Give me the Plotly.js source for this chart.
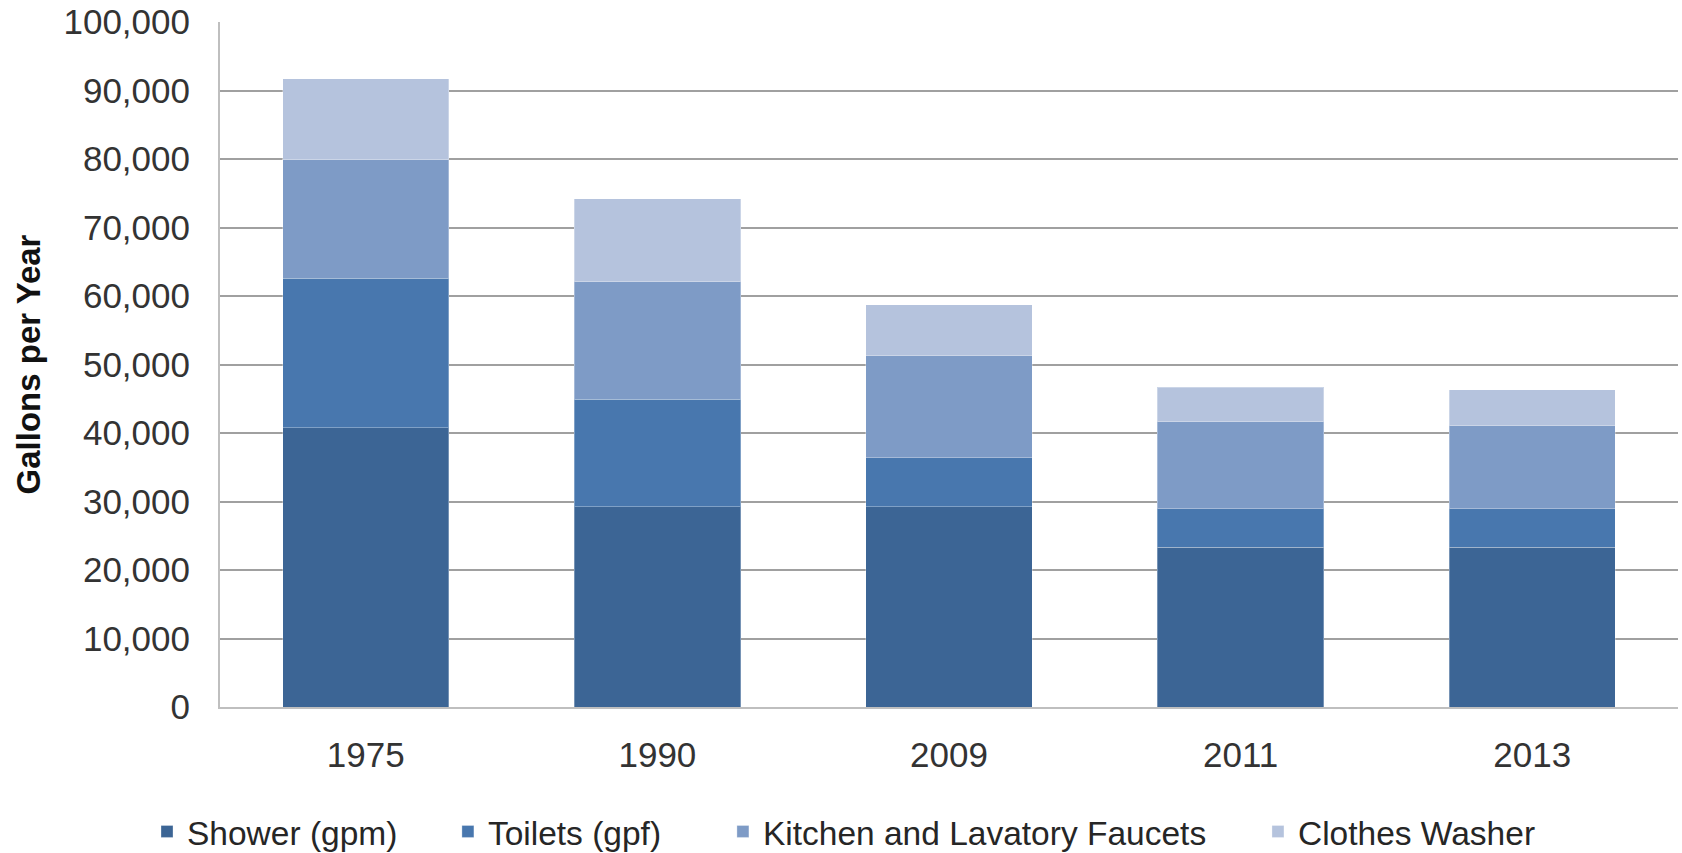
<!DOCTYPE html>
<html>
<head>
<meta charset="utf-8">
<script src="https://cdn.plot.ly/plotly-3.0.1.min.js"></script>
<style>
  html, body { margin: 0; padding: 0; background: #ffffff; }
  #chart { width: 1682px; height: 853px; }
</style>
</head>
<body>
<div id="chart"></div>
<script>
// ---- data ----
const years = ['1975', '1990', '2009', '2011', '2013'];
const seriesNames = ['Shower (gpm)', 'Toilets (gpf)', 'Kitchen and Lavatory Faucets', 'Clothes Washer'];
const shower  = [40800, 29200, 29200, 23300, 23300];
const toilets = [21800, 15700,  7200,  5650,  5650];
const kitchen = [17300, 17200, 14900, 12700, 12100];
const clothes = [11800, 12100,  7400,  5050,  5250];
const yTickVals = [0, 10000, 20000, 30000, 40000, 50000, 60000, 70000, 80000, 90000, 100000];

// ---- styling ----
const colors = ['#3c6595', '#4877ae', '#7e9bc6', '#b5c3dd'];
const FONT = 'Liberation Sans, Arial, sans-serif';
const values = [shower, toilets, kitchen, clothes];
const legendIds = ['legend', 'legend2', 'legend3', 'legend4'];
const legendX = [0.0874, 0.2663, 0.4298, 0.7479];

const traces = values.map((v, i) => ({
  type: 'bar',
  name: seriesNames[i],
  x: years,
  y: v,
  legend: legendIds[i],
  marker: { color: colors[i], line: { color: 'rgba(255,255,255,0.3)', width: 1 } },
  hoverinfo: 'x+y+name'
}));

const layout = {
  width: 1682,
  height: 853,
  paper_bgcolor: '#ffffff',
  plot_bgcolor: '#ffffff',
  barmode: 'stack',
  bargap: 0.43,
  margin: { l: 220, r: 4, t: 22, b: 146, pad: 0 },
  font: { family: FONT, size: 34, color: '#333333' },
  xaxis: {
    type: 'category',
    showgrid: false,
    showline: true,
    linecolor: '#bfbfbf',
    linewidth: 2,
    ticks: '',
    ticklabelstandoff: 16,
    tickfont: { family: FONT, size: 35, color: '#333333' },
    automargin: false,
    fixedrange: true
  },
  yaxis: {
    range: [0, 100000],
    tickvals: yTickVals,
    tickformat: ',d',
    showgrid: true,
    gridcolor: '#a0a0a0',
    gridwidth: 2,
    zeroline: false,
    showline: true,
    linecolor: '#bfbfbf',
    linewidth: 2,
    ticks: '',
    ticklabelstandoff: 21,
    tickfont: { family: FONT, size: 35, color: '#333333' },
    title: { text: 'Gallons per Year', font: { family: FONT, size: 33, color: '#111111', weight: 'bold' }, standoff: 13 },
    automargin: false,
    fixedrange: true
  },
  showlegend: true
};

legendIds.forEach((id, i) => {
  layout[id] = {
    xref: 'container',
    yref: 'container',
    x: legendX[i],
    xanchor: 'left',
    y: 0.025,
    yanchor: 'middle',
    orientation: 'h',
    bgcolor: 'rgba(0,0,0,0)',
    borderwidth: 0,
    font: { family: FONT, size: 33.5, color: '#262626' }
  };
});

Plotly.newPlot('chart', traces, layout, { displayModeBar: false, responsive: false });
</script>
</body>
</html>
